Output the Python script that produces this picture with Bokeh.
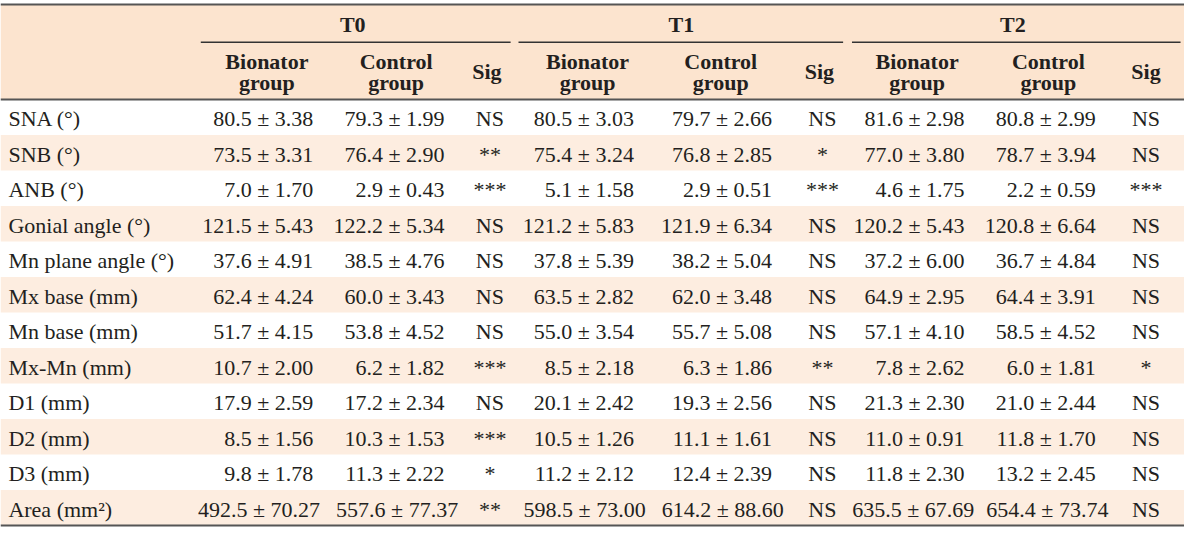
from bokeh.plotting import figure
from bokeh.models import ColumnDataSource, Range1d
from bokeh.core.properties import value
from bokeh.embed import file_html
from bokeh.resources import INLINE

# ---------------- data ----------------
params = ["SNA (°)", "SNB (°)", "ANB (°)", "Gonial angle (°)", "Mn plane angle (°)",
          "Mx base (mm)", "Mn base (mm)", "Mx-Mn (mm)", "D1 (mm)", "D2 (mm)", "D3 (mm)",
          "Area (mm²)"]
time_points = ["T0", "T1", "T2"]
sub_headers = ["Bionator\ngroup", "Control\ngroup", "Sig"]

t0_bio = ["80.5 ± 3.38", "73.5 ± 3.31", "7.0 ± 1.70", "121.5 ± 5.43", "37.6 ± 4.91", "62.4 ± 4.24",
          "51.7 ± 4.15", "10.7 ± 2.00", "17.9 ± 2.59", "8.5 ± 1.56", "9.8 ± 1.78", "492.5 ± 70.27"]
t0_ctl = ["79.3 ± 1.99", "76.4 ± 2.90", "2.9 ± 0.43", "122.2 ± 5.34", "38.5 ± 4.76", "60.0 ± 3.43",
          "53.8 ± 4.52", "6.2 ± 1.82", "17.2 ± 2.34", "10.3 ± 1.53", "11.3 ± 2.22", "557.6 ± 77.37"]
t0_sig = ["NS", "**", "***", "NS", "NS", "NS", "NS", "***", "NS", "***", "*", "**"]
t1_bio = ["80.5 ± 3.03", "75.4 ± 3.24", "5.1 ± 1.58", "121.2 ± 5.83", "37.8 ± 5.39", "63.5 ± 2.82",
          "55.0 ± 3.54", "8.5 ± 2.18", "20.1 ± 2.42", "10.5 ± 1.26", "11.2 ± 2.12", "598.5 ± 73.00"]
t1_ctl = ["79.7 ± 2.66", "76.8 ± 2.85", "2.9 ± 0.51", "121.9 ± 6.34", "38.2 ± 5.04", "62.0 ± 3.48",
          "55.7 ± 5.08", "6.3 ± 1.86", "19.3 ± 2.56", "11.1 ± 1.61", "12.4 ± 2.39", "614.2 ± 88.60"]
t1_sig = ["NS", "*", "***", "NS", "NS", "NS", "NS", "**", "NS", "NS", "NS", "NS"]
t2_bio = ["81.6 ± 2.98", "77.0 ± 3.80", "4.6 ± 1.75", "120.2 ± 5.43", "37.2 ± 6.00", "64.9 ± 2.95",
          "57.1 ± 4.10", "7.8 ± 2.62", "21.3 ± 2.30", "11.0 ± 0.91", "11.8 ± 2.30", "635.5 ± 67.69"]
t2_ctl = ["80.8 ± 2.99", "78.7 ± 3.94", "2.2 ± 0.59", "120.8 ± 6.64", "36.7 ± 4.84", "64.4 ± 3.91",
          "58.5 ± 4.52", "6.0 ± 1.81", "21.0 ± 2.44", "11.8 ± 1.70", "13.2 ± 2.45", "654.4 ± 73.74"]
t2_sig = ["NS", "NS", "***", "NS", "NS", "NS", "NS", "*", "NS", "NS", "NS", "NS"]

# ---------------- layout ----------------
W, H = 1200, 543
FONT = value("Liberation Serif")
TXT = "#231f20"
HEAD_BG = "#fce4cf"
STRIPE_BG = "#fdede0"
LINE = "#555555"
FS = "22px"

header_top, header_bot, table_bot = 4, 102, 541
n = len(params)
row_h = (table_bot - header_bot) / n
row_y = [header_bot + row_h * (i + 0.5) + 1.5 for i in range(n)]

p = figure(width=1184, height=527, output_backend="svg", toolbar_location=None,
           x_range=Range1d(0, W), y_range=Range1d(H, 0), min_border=0)
p.axis.visible = False
p.grid.visible = False
p.outline_line_color = None
p.background_fill_color = "white"
p.border_fill_color = "white"

# header background
p.quad(left=[0], right=[W], top=[header_top], bottom=[header_bot], fill_color=HEAD_BG, line_color=None)
# stripes
sl, sr, st, sb = [], [], [], []
for i in range(n):
    if i % 2 == 1:
        sl.append(0); sr.append(W)
        st.append(header_bot + row_h * i); sb.append(header_bot + row_h * (i + 1))
p.quad(left=sl, right=sr, top=st, bottom=sb, fill_color=STRIPE_BG, line_color=None)

# rules
p.segment(x0=[0] * 3, y0=[header_top, header_bot, table_bot], x1=[W] * 3,
          y1=[header_top, header_bot, table_bot], line_color=LINE, line_width=2)
group_l = [203, 525, 863]
group_r = [517, 854, 1196]
p.segment(x0=group_l, y0=[43] * 3, x1=group_r, y1=[43] * 3, line_color="#333333", line_width=1.5)

# group header text
p.text(x=[357, 690, 1026], y=[25] * 3, text=time_points,
       text_font=FONT, text_font_style="bold", text_font_size=FS, text_color=TXT,
       text_align="center", text_baseline="middle")

# sub headers
sub_x = [[270, 401, 493], [595, 730, 830], [929, 1062, 1161]]
hx, hy, ht = [], [], []
for g in range(3):
    for k, label in enumerate(sub_headers):
        parts = label.split("\n")
        if len(parts) == 2:
            hx += [sub_x[g][k]] * 2
            hy += [63, 84]
            ht += parts
        else:
            hx.append(sub_x[g][k]); hy.append(73); ht.append(label)
p.text(x=hx, y=hy, text=ht, text_font=FONT, text_font_style="bold", text_font_size=FS,
       text_color=TXT, text_align="center", text_baseline="middle")

# row labels
p.text(x=[8] * n, y=row_y, text=params, text_font=FONT, text_font_size=FS, text_color=TXT,
       text_align="left", text_baseline="middle")

# value columns: regular entries right aligned, wide entries centred
value_cols = [t0_bio, t0_ctl, t1_bio, t1_ctl, t2_bio, t2_ctl]
right_edge = [317, 450, 642, 782, 977, 1110]
wide_center = [262, 402, 592, 732, 925, 1061]
for col, rx, cx in zip(value_cols, right_edge, wide_center):
    reg = [(row_y[i], s) for i, s in enumerate(col) if len(s) <= 12]
    wide = [(row_y[i], s) for i, s in enumerate(col) if len(s) > 12]
    src = ColumnDataSource(dict(x=[rx] * len(reg), y=[r[0] for r in reg], t=[r[1] for r in reg]))
    p.text(x="x", y="y", text="t", source=src, text_font=FONT, text_font_size=FS,
           text_color=TXT, text_align="right", text_baseline="middle")
    src2 = ColumnDataSource(dict(x=[cx] * len(wide), y=[r[0] for r in wide], t=[r[1] for r in wide]))
    p.text(x="x", y="y", text="t", source=src2, text_font=FONT, text_font_size=FS,
           text_color=TXT, text_align="center", text_baseline="middle")

# significance columns
sig_cols = [t0_sig, t1_sig, t2_sig]
sig_x = [496, 833, 1161]
for col, sx in zip(sig_cols, sig_x):
    src = ColumnDataSource(dict(x=[sx] * n, y=row_y, t=col))
    p.text(x="x", y="y", text="t", source=src, text_font=FONT, text_font_size=FS,
           text_color=TXT, text_align="center", text_baseline="middle")

open("out.html", "w").write(file_html(p, INLINE))
